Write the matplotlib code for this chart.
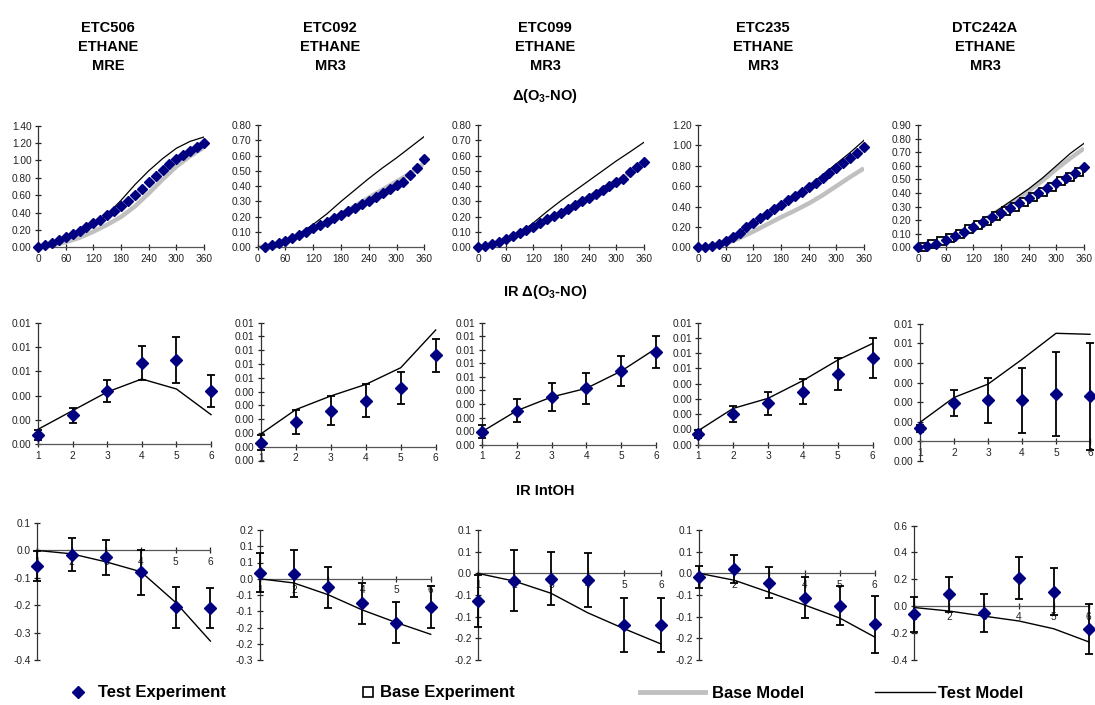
import matplotlib
matplotlib.use('Agg')
import matplotlib.pyplot as plt
from matplotlib.lines import Line2D
from matplotlib.ticker import FuncFormatter
from decimal import Decimal, ROUND_HALF_UP

plt.rcParams['font.family'] = ['Liberation Sans', 'DejaVu Sans']
plt.rcParams['mathtext.fontset'] = 'custom'
plt.rcParams['mathtext.rm'] = 'Liberation Sans:bold'
plt.rcParams['mathtext.bf'] = 'Liberation Sans:bold'
plt.rcParams['mathtext.it'] = 'Liberation Sans:bold:italic'

# ---------------- data ----------------
col_titles = ["ETC506\nETHANE\nMRE", "ETC092\nETHANE\nMR3", "ETC099\nETHANE\nMR3",
              "ETC235\nETHANE\nMR3", "DTC242A\nETHANE\nMR3"]

t15 = list(range(0, 361, 15))
t15_from15 = list(range(15, 361, 15))
t20 = list(range(0, 361, 20))
t20_base = list(range(10, 351, 20))
t30 = list(range(0, 361, 30))

# row 1: d(O3-NO) vs time
etc506_exp = [0.0, 0.027, 0.054, 0.084, 0.119, 0.153, 0.19, 0.234, 0.276, 0.32, 0.368, 0.42, 0.476,
              0.537, 0.606, 0.675, 0.748, 0.82, 0.89, 0.955, 1.013, 1.062, 1.112, 1.155, 1.197]
etc506_base_model = [0.0, 0.02, 0.06, 0.11, 0.18, 0.26, 0.35, 0.47, 0.62, 0.78, 0.93, 1.05, 1.15]
etc506_test_model = [0.0, 0.04, 0.10, 0.17, 0.26, 0.38, 0.54, 0.72, 0.88, 1.02, 1.14, 1.22, 1.27]

etc092_exp = [0.005, 0.013, 0.025, 0.042, 0.06, 0.08, 0.10, 0.123, 0.145, 0.167, 0.19, 0.21,
              0.235, 0.26, 0.285, 0.305, 0.33, 0.355, 0.38, 0.405, 0.43, 0.47, 0.52, 0.578]
etc092_base_model = [0.0, 0.012, 0.04, 0.078, 0.122, 0.168, 0.218, 0.27, 0.325, 0.378, 0.43, 0.485, 0.55]
etc092_test_model = [0.0, 0.012, 0.045, 0.09, 0.15, 0.22, 0.30, 0.375, 0.45, 0.52, 0.585, 0.655, 0.725]

etc099_exp = [0.0, 0.011, 0.022, 0.037, 0.052, 0.074, 0.096, 0.113, 0.135, 0.157, 0.183, 0.205, 0.225,
              0.25, 0.278, 0.30, 0.325, 0.35, 0.375, 0.40, 0.425, 0.45, 0.49, 0.525, 0.56]
etc099_base_model = [0.0, 0.02, 0.05, 0.09, 0.13, 0.18, 0.225, 0.28, 0.33, 0.38, 0.43, 0.485, 0.55]
etc099_test_model = [0.0, 0.01, 0.04, 0.09, 0.16, 0.235, 0.305, 0.37, 0.435, 0.50, 0.565, 0.625, 0.687]

etc235_exp = [0.0, 0.007, 0.013, 0.033, 0.062, 0.105, 0.144, 0.196, 0.242, 0.285, 0.324, 0.373, 0.415,
              0.464, 0.504, 0.546, 0.589, 0.634, 0.677, 0.726, 0.775, 0.824, 0.873, 0.93, 0.988]
etc235_base_model = [0.0, 0.005, 0.035, 0.09, 0.155, 0.225, 0.295, 0.36, 0.43, 0.51, 0.60, 0.69, 0.775]
etc235_test_model = [0.0, 0.01, 0.06, 0.14, 0.23, 0.32, 0.41, 0.50, 0.60, 0.71, 0.82, 0.93, 1.05]

dtc242_exp = [0.0, 0.01, 0.025, 0.054, 0.083, 0.115, 0.147, 0.185, 0.221, 0.255, 0.292, 0.324,
              0.36, 0.397, 0.434, 0.471, 0.508, 0.549, 0.593]
dtc242_base_exp = [0.005, 0.025, 0.047, 0.071, 0.098, 0.132, 0.164, 0.194, 0.23, 0.267, 0.299,
                   0.336, 0.373, 0.41, 0.446, 0.488, 0.52, 0.557]
dtc242_base_model = [0.0, 0.01, 0.04, 0.09, 0.15, 0.215, 0.28, 0.345, 0.415, 0.49, 0.575, 0.655, 0.728]
dtc242_test_model = [0.0, 0.01, 0.04, 0.09, 0.15, 0.22, 0.29, 0.36, 0.43, 0.51, 0.60, 0.69, 0.765]

row1_exp = [(t15, etc506_exp), (t15_from15, etc092_exp), (t15, etc099_exp), (t15, etc235_exp), (t20, dtc242_exp)]
row1_base_model = [etc506_base_model, etc092_base_model, etc099_base_model, etc235_base_model, dtc242_base_model]
row1_test_model = [etc506_test_model, etc092_test_model, etc099_test_model, etc235_test_model, dtc242_test_model]
row1_ylim = [(0, 1.40, 0.20), (0, 0.80, 0.10), (0, 0.80, 0.10), (0, 1.20, 0.20), (0, 0.90, 0.10)]

# row 2: IR d(O3-NO)
runs = [1, 2, 3, 4, 5, 6]
ir_exp = [[0.00077, 0.00238, 0.00438, 0.00668, 0.00696, 0.00438],
          [0.00029, 0.00179, 0.00261, 0.00334, 0.00426, 0.00665],
          [0.00096, 0.00251, 0.00352, 0.00416, 0.00543, 0.00684],
          [0.00072, 0.00201, 0.00271, 0.00348, 0.00463, 0.00568],
          [0.00066, 0.00197, 0.00209, 0.00209, 0.00241, 0.00231]]
ir_err = [[0.00042, 0.00063, 0.0009, 0.0014, 0.0019, 0.0013],
          [0.00053, 0.00087, 0.00105, 0.00119, 0.00115, 0.0012],
          [0.0005, 0.00085, 0.001, 0.00113, 0.00108, 0.00118],
          [0.00025, 0.00055, 0.00074, 0.00083, 0.00104, 0.00129],
          [0.0002, 0.00066, 0.00116, 0.00164, 0.00215, 0.00273]]
ir_model = [[0.00123, 0.00277, 0.0043, 0.00537, 0.00455, 0.00244],
            [0.00092, 0.00269, 0.00368, 0.00452, 0.00573, 0.00847],
            [0.00096, 0.00251, 0.00352, 0.00416, 0.00543, 0.0071],
            [0.00092, 0.00238, 0.00304, 0.0042, 0.00555, 0.00664],
            [0.00097, 0.00224, 0.00292, 0.00418, 0.00551, 0.00546]]
row2_ylim = [(0, 0.010, 0.002), (-0.001, 0.009, 0.001), (0, 0.009, 0.001),
             (0, 0.008, 0.001), (-0.001, 0.006, 0.001)]

# row 3: IR IntOH
oh_exp = [[-0.056, -0.015, -0.025, -0.08, -0.208, -0.21],
          [0.019, 0.016, -0.026, -0.076, -0.135, -0.087],
          [-0.063, -0.017, -0.012, -0.016, -0.12, -0.12],
          [-0.008, 0.010, -0.022, -0.056, -0.075, -0.118],
          [-0.061, 0.087, -0.051, 0.211, 0.109, -0.17]]
oh_err = [[0.055, 0.061, 0.064, 0.081, 0.074, 0.073],
          [0.06, 0.072, 0.063, 0.063, 0.063, 0.064],
          [0.06, 0.071, 0.062, 0.062, 0.062, 0.062],
          [0.026, 0.033, 0.036, 0.048, 0.045, 0.065],
          [0.13, 0.132, 0.144, 0.158, 0.172, 0.186]]
oh_model = [[0.0, -0.0125, -0.042, -0.078, -0.19, -0.331],
            [0.0, -0.013, -0.049, -0.096, -0.135, -0.171],
            [0.0, -0.018, -0.046, -0.091, -0.128, -0.163],
            [0.0, -0.016, -0.044, -0.073, -0.103, -0.147],
            [-0.01, -0.036, -0.074, -0.11, -0.168, -0.265]]
row3_ylim = [(-0.4, 0.1, 0.1), (-0.25, 0.15, 0.05), (-0.2, 0.1, 0.05),
             (-0.2, 0.1, 0.05), (-0.4, 0.6, 0.2)]

# ---------------- layout (pixel boxes: left, right, top, bottom) ----------------
W, H = 1095, 705
row1_box = [(38, 204, 125.7, 247.3), (257.7, 424.3, 125, 247.3), (478, 644, 125, 247.3),
            (698, 864, 125, 247.3), (918, 1084, 125, 247.3)]
row2_box = [(38, 211, 322.7, 444.3), (260.7, 435.7, 322.7, 460.5), (482, 656, 322.7, 444.7),
            (698.3, 872.6, 322.7, 444.7), (920, 1090, 323.7, 461)]
row3_box = [(36.8, 210.4, 523, 660), (259.6, 430.7, 530, 660), (477.7, 661, 530, 660),
            (699.3, 874.7, 530, 660), (914.3, 1088.7, 525.5, 660)]
col_centers = [108, 330, 545, 763, 985]

NAVY = '#000080'
GRAY = '#c0c0c0'


def excel_label(v, nd):
    d = Decimal(str(round(v, 10))).quantize(Decimal(1).scaleb(-nd), rounding=ROUND_HALF_UP)
    if d == 0:
        d = abs(d)
    return format(d, f'.{nd}f')


def place(fig, box):
    left, right, top, bottom = box
    return fig.add_axes([left / W, 1 - bottom / H, (right - left) / W, (bottom - top) / H])


def style(ax, ylim, nd, xticks, xlim):
    lo, hi, step = ylim
    n = int(round((hi - lo) / step))
    ax.set_ylim(lo, hi)
    ax.set_yticks([lo + i * step for i in range(n + 1)])
    ax.yaxis.set_major_formatter(FuncFormatter(lambda v, p: excel_label(v, nd)))
    ax.set_xlim(*xlim)
    ax.set_xticks(xticks)
    for s in ('top', 'right'):
        ax.spines[s].set_visible(False)
    ax.spines['left'].set_color('#333333')
    ax.spines['bottom'].set_color('#555555')
    for s in ('left', 'bottom'):
        ax.spines[s].set_linewidth(0.9)
    if lo < 0:
        ax.spines['bottom'].set_position(('data', 0))
    ax.tick_params(direction='inout', length=5, width=0.9, labelsize=7.3,
                   pad=2, colors='#222222')
    ax.patch.set_visible(False)


fig = plt.figure(figsize=(W / 100, H / 100), dpi=100)

for i in range(5):
    # row 1
    ax = place(fig, row1_box[i])
    style(ax, row1_ylim[i], 2, list(range(0, 361, 60)), (0, 360))
    ax.plot(t30, row1_base_model[i], color=GRAY, lw=3.2, solid_capstyle='butt', zorder=2)
    ax.plot(t30, row1_test_model[i], color='black', lw=0.9, zorder=3)
    tx, vals = row1_exp[i]
    if i == 4:
        ax.plot(t20_base, dtc242_base_exp, 's', mfc='white', mec='black', mew=1.3, ms=5.6,
                zorder=4, clip_on=False)
    ax.plot(tx, vals, 'D', color=NAVY, ms=5.5, zorder=5, clip_on=False)

    # row 2
    ax = place(fig, row2_box[i])
    style(ax, row2_ylim[i], 2, runs, (1, 6))
    ax.plot(runs, ir_model[i], color='black', lw=1.0, zorder=3, clip_on=False)
    ax.errorbar(runs, ir_exp[i], yerr=ir_err[i], fmt='D', color=NAVY, ms=6.2,
                ecolor='black', elinewidth=1.3, capsize=2.8, capthick=1.3,
                zorder=4, clip_on=False)

    # row 3
    ax = place(fig, row3_box[i])
    style(ax, row3_ylim[i], 1, runs, (1, 6))
    ax.plot(runs, oh_model[i], color='black', lw=1.0, zorder=3, clip_on=False)
    ax.errorbar(runs, oh_exp[i], yerr=oh_err[i], fmt='D', color=NAVY, ms=6.2,
                ecolor='black', elinewidth=1.3, capsize=2.8, capthick=1.3,
                zorder=4, clip_on=False)

    fig.text(col_centers[i] / W, 1 - 47 / H, col_titles[i], ha='center', va='center',
             fontsize=10.5, fontweight='bold', linespacing=1.45)

fig.text(545 / W, 1 - 96 / H, 'Δ(O$_3$-NO)', ha='center', va='center',
         fontsize=10.5, fontweight='bold')
fig.text(545 / W, 1 - 292 / H, 'IR Δ(O$_3$-NO)', ha='center', va='center',
         fontsize=10.5, fontweight='bold')
fig.text(545 / W, 1 - 491 / H, 'IR IntOH', ha='center', va='center',
         fontsize=10.5, fontweight='bold')

# legend, one entry each
legend_items = [
    (Line2D([], [], ls='none', marker='D', color=NAVY, ms=6.5), 'Test Experiment', 69.7, 1.0, 0.7),
    (Line2D([], [], ls='none', marker='s', mfc='white', mec='black', mew=1.2, ms=6.5), 'Base Experiment', 359.7, 1.0, 0.22),
    (Line2D([], [], color=GRAY, lw=3.5), 'Base Model', 640, 3.9, 0.42),
    (Line2D([], [], color='black', lw=1.0), 'Test Model', 875, 3.6, 0.18),
]
for handle, label, x0, hl, pad in legend_items:
    fig.legend(handles=[handle], labels=[label], loc='center left',
               bbox_to_anchor=(x0 / W, 1 - 693 / H), frameon=False, borderpad=0,
               borderaxespad=0, handlelength=hl, handletextpad=pad,
               prop={'weight': 'bold', 'size': 12})

fig.savefig('out.png', dpi=100)
